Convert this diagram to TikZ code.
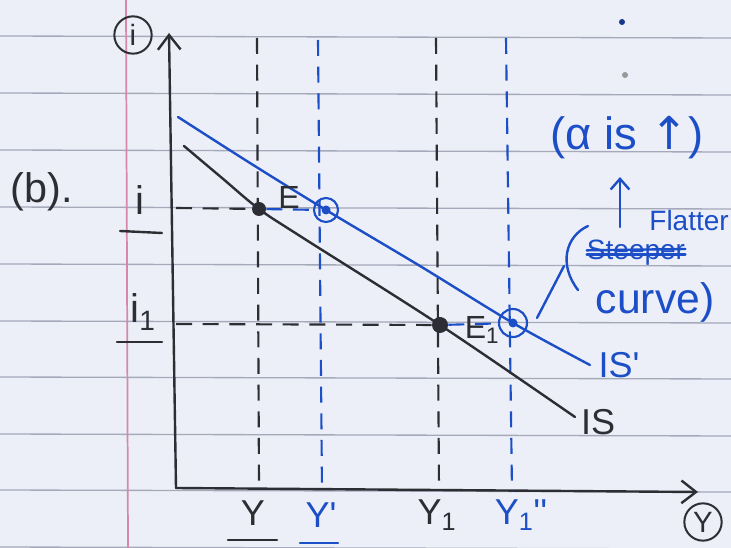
\documentclass[tikz,border=0pt]{standalone}
\usepackage{fontspec}
\setmainfont{Liberation Sans}
\newfontfamily\symfont{DejaVu Sans}
\usetikzlibrary{arrows.meta}
\definecolor{paper}{RGB}{236,239,247}
\definecolor{ruleline}{RGB}{165,169,186}
\definecolor{marginc}{RGB}{214,135,170}
\definecolor{ink}{RGB}{45,45,52}
\definecolor{blueink}{RGB}{28,78,200}
\begin{document}
\begin{tikzpicture}[x=0.75pt,y=-0.75pt,
  pen/.style={line width=1.8pt, line cap=round, line join=round},
  kpen/.style={pen, ink},
  bpen/.style={pen, blueink},
  dashline/.style={line width=1.6pt, dash pattern=on 12pt off 8pt},
  lbl/.style={font=\fontsize{27}{29}\selectfont, inner sep=0pt},
  biglbl/.style={font=\fontsize{31}{33}\selectfont, inner sep=0pt},
  circlbl/.style={circle, draw=ink, line width=1.5pt, minimum size=28pt, inner sep=0pt, font=\fontsize{22}{24}\selectfont, text=ink},
  kdot/.style={circle, fill=ink, inner sep=0pt},
  bring/.style={circle, draw=blueink, line width=1.6pt, inner sep=0pt},
  barb/.style={-{Straight Barb[length=11pt,width=17pt,line width=1.8pt]}}
]
% paper
\fill[paper] (0,0) rectangle (731,548);
\useasboundingbox (0,0) rectangle (731,548);
\foreach \yy in {36,93,150,207,264,321,377,434,490,547}
  \draw[ruleline, line width=1pt] (0,\yy) -- (731,\yy+2);
\draw[marginc, line width=1.3pt] (126,0) -- (128,548);
\fill[blueink!70!black] (622,22) circle (3);
\fill[gray!80] (625,75) circle (3);

% axes
\coordinate (O) at (176,488);
\coordinate (ytip) at (169,33);
\coordinate (xtip) at (698,492);
\draw[kpen, barb] (O) -- (ytip);
\draw[kpen, barb] (O) -- (xtip);
\node[circlbl] (iax) at (133,35) {i};
\node[circlbl] (yax) at (703,522) {Y};

% equilibrium points
\node[kdot, minimum size=10.5pt] (E) at (259,209) {};
\node[kdot, minimum size=12pt] (E1) at (440,325) {};
\node[bring, minimum size=18pt] (Ep) at (326,210) {};
\node[bring, minimum size=21pt] (E1p) at (513,323) {};
\fill[blueink] (Ep) circle (4.5);
\fill[blueink] (E1p) circle (4.5);

% vertical dashed guides
\coordinate (Ytop) at (257,38);   \coordinate (Ybot) at (259,488);
\coordinate (Yptop) at (318,40);  \coordinate (Ypbot) at (322,490);
\coordinate (Y1top) at (436,38);  \coordinate (Y1bot) at (439,490);
\coordinate (Ydtop) at (506,38);  \coordinate (Ydbot) at (512,492);
\draw[ink, dashline] (Ytop) -- (Ybot);
\draw[blueink, dashline] (Yptop) -- (Ypbot);
\draw[ink, dashline] (Y1top) -- (Y1bot);
\draw[blueink, dashline] (Ydtop) -- (Ydbot);

% horizontal dashed guides
\coordinate (iy) at (176,208);
\coordinate (i1y) at (176,324);
\draw[ink, dashline] (iy) -- (E);
\draw[blueink, dashline] (E) -- (Ep);
\draw[ink, dashline] (i1y) -- (E1);
\draw[blueink, dashline] (E1) -- (E1p);

% IS curves
\draw[kpen] plot[smooth, tension=0.55] coordinates {(184,146) (222,178) (259,209) (300,236) (440,325) (575,417)};
\draw[bpen] plot[smooth, tension=0.55] coordinates {(178,117) (250,163) (326,210) (420,266) (513,323) (590,365)};

% point labels
\node[lbl, text=ink, font=\fontsize{24}{26}\selectfont] (Elab) at (289,197) {E};
\node[lbl, text=ink, font=\fontsize{24}{26}\selectfont] (E1lab) at (482,330) {E\textsubscript{1}};

% axis value labels
\node[lbl, text=ink, font=\fontsize{30}{32}\selectfont] (ilab) at (140,200) {i};
\draw[kpen] (120,231) -- (162,233);
\node[lbl, text=ink, font=\fontsize{30}{32}\selectfont] (i1lab) at (143,312) {i\textsubscript{1}};
\draw[kpen] (117,342) -- (162,342);

\node[lbl, text=ink] (Ylab) at (253,513) {Y};
\draw[kpen] (228,540) -- (277,540);
\node[lbl, text=blueink] (Yplab) at (321,515) {Y\textquotesingle};
\draw[bpen] (300,543) -- (338,543);
\node[lbl, text=ink] (Y1lab) at (437,515) {Y\textsubscript{1}};
\node[lbl, text=blueink] (Ydlab) at (521,515) {Y\textsubscript{1}\textquotesingle\textquotesingle};

\node[biglbl, text=ink] (blab) at (42,192) {(b).};

% curve labels
\node[lbl, text=blueink] (ISplab) at (619,365) {IS\textquotesingle};
\node[lbl, text=ink] (ISlab) at (598,422) {IS};

% annotations
\node[biglbl, text=blueink, font=\fontsize{34}{36}\selectfont] (alpha) at (627,138) {(α is {\symfont ↑})};
\coordinate (arrbot) at (620,227);
\coordinate (arrtop) at (620,177);
\draw[bpen, -{Straight Barb[length=8pt,width=14pt,line width=1.8pt]}] (arrbot) -- (arrtop);
\node[lbl, text=blueink, anchor=east, font=\fontsize{21}{23}\selectfont] (flat) at (729,220) {Flatter};
\node[lbl, text=blueink, font=\fontsize{21}{23}\selectfont] (st) at (636,253) {Steeper};
\draw[bpen] ([yshift=-1pt]st.west) -- ([yshift=-1pt]st.east);
\draw[bpen] ([yshift=2pt]st.west) -- ([yshift=3pt]st.east);
\coordinate (ptop) at (588,226);
\coordinate (pbot) at (578,290);
\coordinate (pmid) at (564,266);
\coordinate (lk) at (537,318);
\draw[bpen] (ptop) .. controls (566,236) and (558,264) .. (pbot);
\draw[bpen] (lk) -- (pmid);
\node[biglbl, text=blueink, font=\fontsize{32}{34}\selectfont] (curve) at (655,302) {curve)};
\end{tikzpicture}
\end{document}
